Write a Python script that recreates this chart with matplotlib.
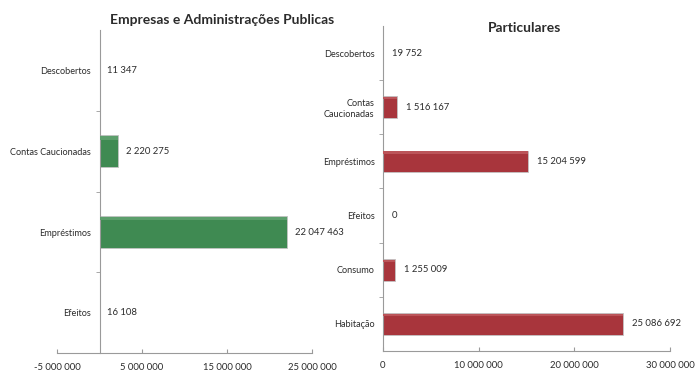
import matplotlib
matplotlib.use("Agg")
import matplotlib.pyplot as plt
from matplotlib.ticker import FuncFormatter, FixedLocator

plt.rcParams['font.family'] = ['Lato', 'DejaVu Sans']

# Empresas e Administrações Publicas
emp_labels = ["Descobertos", "Contas Caucionadas", "Empréstimos", "Efeitos"]
emp_values = [11347, 2220275, 22047463, 16108]

# Particulares
part_labels = ["Descobertos", "Contas\nCaucionadas", "Empréstimos", "Efeitos", "Consumo", "Habitação"]
part_values = [19752, 1516167, 15204599, 0, 1255009, 25086692]

emp_ticks = [-5000000, 5000000, 15000000, 25000000]
part_ticks = [0, 10000000, 20000000, 30000000]

GREEN = "#3f8a52"
GREEN_HI = "#5c9f6c"
RED = "#a8353c"
RED_HI = "#bb5459"
TEXT = "#2b2b2b"
AXIS = "#9a9a9a"


def spaced(v, pos=None):
    s = "{:,}".format(int(abs(v))).replace(",", " ")
    return ("-" if v < 0 else "") + s


def draw_panel(ax, labels, values, color, hi, xlim, ticks, offset):
    y = list(range(len(labels)))
    ax.barh(y, values, height=0.4, color=color, edgecolor="#c4c4c4", linewidth=0.6, zorder=2)
    # lighter top strip for a bit of shading
    ax.barh([i - 0.165 for i in y], values, height=0.04, color=hi, linewidth=0, zorder=3)
    for yi, v in zip(y, values):
        ax.text(v + offset, yi, spaced(v), va="center", ha="left", fontsize=6.8, color=TEXT)

    ax.set_xlim(*xlim)
    ax.set_ylim(len(labels) - 0.5, -0.5)
    ax.yaxis.set_minor_locator(FixedLocator([i + 0.5 for i in range(len(labels) - 1)]))
    ax.tick_params(axis="y", which="major", length=0, pad=6, labelsize=6.6, labelcolor=TEXT)
    ax.tick_params(axis="y", which="minor", length=3, color=AXIS, direction="out")
    ax.set_yticks(y)
    ax.set_yticklabels(labels, fontsize=6.6, color=TEXT, multialignment="center")

    ax.set_xticks(ticks)
    ax.xaxis.set_major_formatter(FuncFormatter(spaced))
    ax.tick_params(axis="x", length=3, color=AXIS, direction="in", labelsize=6.8,
                   labelcolor=TEXT, pad=7)

    for side in ["top", "right"]:
        ax.spines[side].set_visible(False)
    ax.spines["left"].set_position(("data", 0))
    for side in ["left", "bottom"]:
        ax.spines[side].set_color(AXIS)
        ax.spines[side].set_linewidth(0.8)


fig = plt.figure(figsize=(6.95, 3.71), dpi=100)

ax1 = fig.add_axes([0.082, 0.048, 0.367, 0.871])
draw_panel(ax1, emp_labels, emp_values, GREEN, GREEN_HI, (-5000000, 25000000),
           emp_ticks, 900000)
fig.text(0.32, 0.945, "Empresas e Administrações Publicas", ha="center", va="center",
         fontsize=10, fontweight="bold", color=TEXT)

ax2 = fig.add_axes([0.551, 0.054, 0.413, 0.876])
draw_panel(ax2, part_labels, part_values, RED, RED_HI, (0, 30000000),
           part_ticks, 900000)
fig.text(0.755, 0.925, "Particulares", ha="center", va="center",
         fontsize=10, fontweight="bold", color=TEXT)

fig.savefig("out.png", dpi=100)
